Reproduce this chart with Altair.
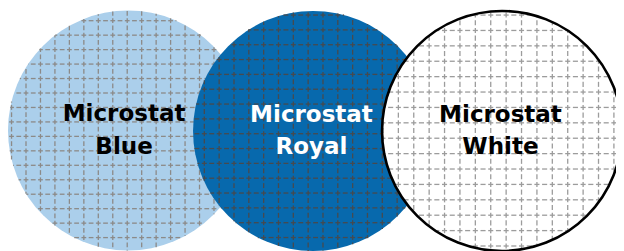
import math
import numpy as np
import pandas as pd
import altair as alt

# ---- data (layout in "radius units": every circle has radius 1) ----
names = ["Blue", "Royal", "White"]
labels = ["Microstat\nBlue", "Microstat\nRoyal", "Microstat\nWhite"]
center_x = [0.0, 1.542, 3.117]
center_y = [0.0, -0.004, -0.004]
label_x = [-0.033, 1.529, 3.104]
label_y = [0.079, 0.075, 0.075]
fill_colors = ["#ABCFEB", "#0769AD", "#FFFFFF"]
grid_colors = ["#8C8A88", "#474A4E", "#9C9C9C"]
text_colors = ["#000000", "#FFFFFF", "#000000"]
grid_step = [0.1205, 0.1236, 0.1283]
grid_off_x = [-0.85, -0.906, -0.864]
grid_off_y = [0.915, 0.966, 0.966]

PX = 120.0  # pixels per unit
W, H = 608, 243
x_dom = [-1.0, -1.0 + W / PX]
y_top = 122.5 / PX
y_dom = [y_top - H / PX, y_top]


def grid_segments(i):
    cx, cy = center_x[i], center_y[i]
    step, ox, oy = grid_step[i], grid_off_x[i], grid_off_y[i]
    L = 0.33 * step
    segs = []
    # vertical lines
    kmin = math.ceil((-1 - ox) / step)
    kmax = math.floor((1 - ox) / step)
    for k in range(kmin, kmax + 1):
        rel = ox + k * step
        if abs(rel) >= 1:
            continue
        x = cx + rel
        h = math.sqrt(1 - rel * rel)
        lo, hi = cy - h, cy + h
        jmin = math.floor((lo - cy - oy) / (step / 2)) - 1
        jmax = math.ceil((hi - cy - oy) / (step / 2)) + 1
        for j in range(jmin, jmax + 1):
            c = cy + oy + j * step / 2
            a, b = max(c - L / 2, lo), min(c + L / 2, hi)
            if b - a > 0.002:
                segs.append((x, a, x, b))
    # horizontal lines
    kmin = math.ceil((-1 - oy) / step)
    kmax = math.floor((1 - oy) / step)
    for k in range(kmin, kmax + 1):
        rel = oy + k * step
        if abs(rel) >= 1:
            continue
        y = cy + rel
        h = math.sqrt(1 - rel * rel)
        lo, hi = cx - h, cx + h
        jmin = math.floor((lo - cx - ox) / (step / 2)) - 1
        jmax = math.ceil((hi - cx - ox) / (step / 2)) + 1
        for j in range(jmin, jmax + 1):
            c = cx + ox + j * step / 2
            a, b = max(c - L / 2, lo), min(c + L / 2, hi)
            if b - a > 0.002:
                segs.append((a, y, b, y))
    return pd.DataFrame(segs, columns=["x1", "y1", "x2", "y2"])


xs = alt.Scale(domain=x_dom, nice=False, zero=False)
ys = alt.Scale(domain=y_dom, nice=False, zero=False)
# Vega symbol size: circle radius = sqrt(size) / 2
AREA = (2 * PX) ** 2

layers = []
for i in range(3):
    cdf = pd.DataFrame({"x": [center_x[i]], "y": [center_y[i]]})
    layers.append(
        alt.Chart(cdf).mark_circle(size=AREA, opacity=1, color=fill_colors[i]).encode(
            x=alt.X("x:Q", scale=xs, axis=None), y=alt.Y("y:Q", scale=ys, axis=None)
        )
    )
    gdf = grid_segments(i)
    layers.append(
        alt.Chart(gdf).mark_rule(color=grid_colors[i], strokeWidth=1.3, strokeCap="butt").encode(
            x=alt.X("x1:Q", scale=xs, axis=None), x2="x2:Q",
            y=alt.Y("y1:Q", scale=ys, axis=None), y2="y2:Q",
        )
    )

outline = pd.DataFrame({"x": [center_x[2]], "y": [center_y[2]]})
layers.append(
    alt.Chart(outline).mark_point(shape="circle", size=AREA, filled=False, color="#000000",
                                  strokeWidth=2.6, strokeJoin="round", opacity=1).encode(
        x=alt.X("x:Q", scale=xs, axis=None), y=alt.Y("y:Q", scale=ys, axis=None)
    )
)

tdf = pd.DataFrame({"label": labels, "x": label_x, "y": label_y, "tc": text_colors})
layers.append(
    alt.Chart(tdf).mark_text(font="DejaVu Sans", fontWeight="bold", fontSize=23,
                             lineBreak="\n", lineHeight=32.5, baseline="alphabetic",
                             align="center").encode(
        x=alt.X("x:Q", scale=xs, axis=None), y=alt.Y("y:Q", scale=ys, axis=None),
        text="label:N", color=alt.Color("tc:N", scale=None),
    )
)

chart = (
    alt.layer(*layers)
    .properties(width=W, height=H, padding=0, autosize=alt.AutoSizeParams(type="none"))
    .configure_view(stroke=None)
)
chart.save("out.html", embed_options={"renderer": "svg", "actions": False})
